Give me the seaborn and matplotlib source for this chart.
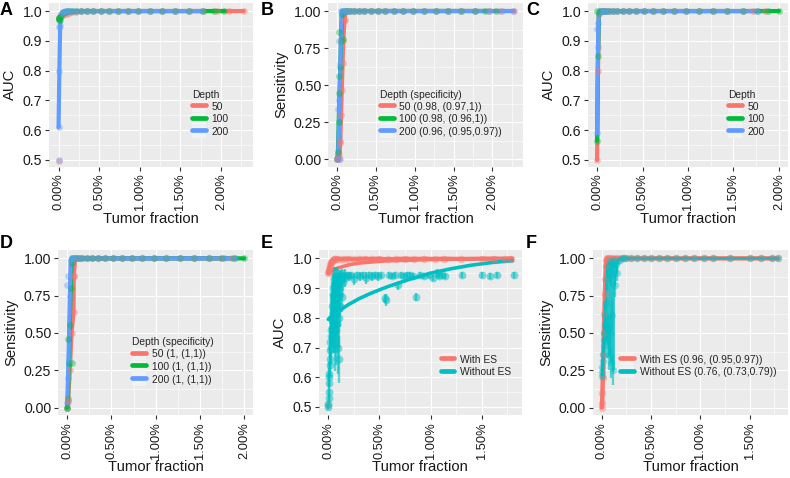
import matplotlib
matplotlib.use("Agg")
import matplotlib.pyplot as plt
import seaborn as sns
from matplotlib.lines import Line2D
from matplotlib.patches import Patch
from matplotlib.ticker import PercentFormatter, FormatStrFormatter, AutoMinorLocator

sns.set_theme(style="darkgrid")
plt.rcParams["font.family"] = ["Liberation Sans", "DejaVu Sans"]

RED, GREEN, BLUE, TEAL = "#F8766D", "#00BA38", "#619CFF", "#00BFC4"
depth_colors = {"50": RED, "100": GREEN, "200": BLUE}

# shared tumor-fraction grid for the flat part of panels A-D
low_tf = [0, 0.0001, 0.0002, 0.0003, 0.0005, 0.0008, 0.001]
tail_tf = [0.0013, 0.0017, 0.0022, 0.0028, 0.0035, 0.0043, 0.0052, 0.0062,
           0.0073, 0.0085, 0.0098, 0.0112, 0.0127, 0.0143, 0.016]
tail_one = [1.0, 1.0, 1.0, 1.0, 1.0, 1.0, 1.0, 1.0, 1.0, 1.0, 1.0, 1.0, 1.0, 1.0, 1.0]

# ---- Panel A: AUC by depth
a_tf_50 = low_tf + tail_tf + [0.0178, 0.0195, 0.021, 0.0228]
a_auc_50 = [0.975, 0.978, 0.982, 0.984, 0.988, 0.99, 0.991] + \
    [0.994, 0.996, 0.998, 0.999, 1.0, 1.0, 1.0, 1.0, 1.0, 1.0, 1.0, 1.0, 1.0, 1.0, 1.0] + [1.0, 1.0, 1.0, 1.0]
a_tf_100 = low_tf + tail_tf + [0.0178, 0.0191, 0.0204]
a_auc_100 = [0.97, 0.975, 0.98, 0.985, 0.995, 0.998, 0.999] + tail_one + [1.0, 1.0, 1.0]
a_tf_200 = low_tf + tail_tf + [0.0177]
a_auc_200 = [0.61, 0.8, 0.95, 0.99, 0.998, 1.0, 1.0] + tail_one + [1.0]
a_pts_tf = [0, 0, 0, 0.0001, 0.0002]
a_pts_auc = [0.495, 0.5, 0.945, 0.975, 0.97]
a_pts_grp = ["50", "200", "200", "100", "100"]

# ---- Panel B: sensitivity by depth
b_tf_50 = [0, 0.0002, 0.0003, 0.0004, 0.0005, 0.0006, 0.0007, 0.0008, 0.00095, 0.0011] + tail_tf + [0.0178, 0.0195, 0.021, 0.0228]
b_sens_50 = [0.0, 0.0, 0.03, 0.11, 0.3, 0.47, 0.65, 0.8, 0.94, 1.0] + tail_one + [1.0, 1.0, 1.0, 1.0]
b_tf_100 = [0, 0.0001, 0.0002, 0.0003, 0.0004, 0.0005, 0.00065, 0.0008, 0.001] + tail_tf + [0.0178, 0.0191, 0.0204]
b_sens_100 = [0.0, 0.05, 0.25, 0.45, 0.62, 0.8, 0.98, 1.0, 1.0] + tail_one + [1.0, 1.0, 1.0]
b_tf_200 = [0, 0.0001, 0.0002, 0.0003, 0.0004, 0.00056, 0.0008, 0.001] + tail_tf + [0.0178, 0.0195, 0.0212, 0.0226]
b_sens_200 = [0.0, 0.0, 0.16, 0.4, 0.64, 1.0, 1.0, 1.0] + tail_one + [1.0, 1.0, 1.0, 1.0]
b_pts_tf = [0, 0.0001, 0.0002, 0.0003, 0.0008, 0.0002, 0.0004, 0.0009, 0.0004]
b_pts_sens = [0.0, 0.34, 0.56, 0.86, 0.81, 0.8, 0.12, 0.93, 0.0]
b_pts_grp = ["50", "200", "100", "100", "100", "200", "50", "50", "200"]
b_labels = ["50 (0.98, (0.97,1))", "100 (0.98, (0.96,1))", "200 (0.96, (0.95,0.97))"]

# ---- Panel C: AUC by depth
c_tf_50 = low_tf + tail_tf + [0.0172, 0.0185]
c_auc_50 = [0.5, 0.8, 0.99, 1.0, 1.0, 1.0, 1.0] + tail_one + [1.0, 1.0]
c_tf_100 = low_tf + tail_tf + [0.0176, 0.0188, 0.02]
c_auc_100 = [0.565, 0.85, 0.995, 1.0, 1.0, 1.0, 1.0] + tail_one + [1.0, 1.0, 1.0]
c_tf_200 = low_tf + tail_tf + [0.0177]
c_auc_200 = [0.59, 0.88, 0.998, 1.0, 1.0, 1.0, 1.0] + tail_one + [1.0]
c_pts_tf = [0, 0, 0.0001]
c_pts_auc = [1.0, 0.94, 0.96]
c_pts_grp = ["100", "200", "200"]

# ---- Panel D: sensitivity by depth
d_tf_50 = [0, 0.0001, 0.0003, 0.0005, 0.00072, 0.00075, 0.0009, 0.0011] + tail_tf + [0.0174, 0.0186]
d_sens_50 = [0.0, 0.04, 0.25, 0.5, 0.64, 0.88, 1.0, 1.0] + tail_one + [1.0, 1.0]
d_tf_100 = [0, 0.0001, 0.0002, 0.0003, 0.0004, 0.0005, 0.0006, 0.0008, 0.001] + tail_tf + [0.0175, 0.0188, 0.02]
d_sens_100 = [0.0, 0.06, 0.3, 0.55, 0.8, 0.97, 1.0, 1.0, 1.0] + tail_one + [1.0, 1.0, 1.0]
d_tf_200 = [0, 0.0001, 0.0002, 0.0003, 0.0004, 0.0005, 0.0007, 0.001] + tail_tf + [0.0177, 0.019]
d_sens_200 = [0.03, 0.2, 0.45, 0.75, 0.99, 1.0, 1.0, 1.0] + tail_one + [1.0, 1.0]
d_pts_tf = [0, 0, 0.0001, 0.00015, 0.0002, 0.0005, 0.0008, 0.00012]
d_pts_sens = [0.0, 0.82, 0.88, 0.46, 0.32, 0.3, 0.88, 0.05]
d_pts_grp = ["100", "200", "200", "100", "200", "100", "50", "50"]
d_labels = ["50 (1, (1,1))", "100 (1, (1,1))", "200 (1, (1,1))"]

# ---- Panel E: AUC with / without ES
tail_ef = [0.0013, 0.0016, 0.002, 0.0025, 0.003, 0.0036, 0.0043, 0.005, 0.0058, 0.0066,
           0.0075, 0.0084, 0.0094, 0.0104, 0.0113, 0.013, 0.015, 0.0162, 0.0173, 0.0179]
e_tf_with = [0, 0.00003, 0.00006, 0.0001, 0.00015, 0.0002, 0.00025, 0.0003, 0.0004, 0.0005,
             0.0006, 0.0007, 0.0008, 0.001] + tail_ef
e_auc_with = [0.95, 0.953, 0.958, 0.965, 0.972, 0.978, 0.983, 0.987, 0.992, 0.995,
              0.997, 0.998, 0.998, 0.998] + \
    [0.997, 0.998, 0.999, 0.997, 0.998, 0.999, 0.998, 0.999, 0.997, 0.998,
     0.999, 0.998, 0.999, 0.998, 0.999, 0.998, 0.999, 0.999, 0.998, 0.999]
e_err_with = [0.006, 0.006, 0.006, 0.006, 0.005, 0.005, 0.005, 0.005, 0.004, 0.004,
              0.003, 0.003, 0.003, 0.003] + \
    [0.003, 0.003, 0.002, 0.003, 0.002, 0.002, 0.003, 0.002, 0.003, 0.002,
     0.002, 0.002, 0.002, 0.002, 0.002, 0.002, 0.002, 0.002, 0.002, 0.002]
e_pts_tf = [0]
e_pts_auc = [0.505]

e_tf_wo = [0, 0.00002, 0.00004, 0.00006, 0.00008, 0.0001, 0.00012, 0.00014, 0.00016, 0.00018,
           0.0002, 0.00023, 0.00026, 0.00029, 0.00032, 0.00035, 0.00038, 0.00041, 0.00044, 0.00047,
           0.0005, 0.00053, 0.00056, 0.00059, 0.00062, 0.00065, 0.00068, 0.00071, 0.00074, 0.00077,
           0.0008, 0.00083, 0.00086, 0.00089, 0.00092, 0.00095, 0.00098, 0.00101, 0.00104, 0.00107,
           0.0011, 0.00113, 0.00116, 0.0012, 0.00125, 0.0013, 0.00135, 0.0014, 0.0015, 0.0016,
           0.0018, 0.002, 0.0022, 0.0025, 0.0028, 0.0031, 0.0034, 0.0037, 0.004, 0.0043,
           0.0046, 0.0049, 0.0052, 0.0055, 0.0056, 0.0059, 0.0062, 0.0065, 0.0068, 0.0071,
           0.0074, 0.0077, 0.008, 0.0083, 0.0086, 0.009, 0.0094, 0.0098, 0.0102, 0.0106,
           0.0108, 0.0111, 0.0114, 0.0131, 0.015, 0.0158, 0.0165, 0.0181]
e_auc_wo = [0.50, 0.51, 0.53, 0.55, 0.58, 0.61, 0.60, 0.64, 0.69, 0.66,
            0.72, 0.70, 0.76, 0.74, 0.80, 0.77, 0.84, 0.79, 0.88, 0.82,
            0.90, 0.78, 0.93, 0.80, 0.86, 0.72, 0.91, 0.83, 0.94, 0.76,
            0.89, 0.82, 0.94, 0.78, 0.92, 0.70, 0.87, 0.66, 0.93, 0.80,
            0.90, 0.84, 0.94, 0.88, 0.93, 0.87, 0.945, 0.92, 0.94, 0.935,
            0.945, 0.94, 0.945, 0.93, 0.945, 0.94, 0.945, 0.935, 0.945, 0.94,
            0.945, 0.94, 0.945, 0.865, 0.86, 0.945, 0.94, 0.945, 0.91, 0.945,
            0.94, 0.945, 0.945, 0.94, 0.87, 0.945, 0.94, 0.945, 0.935, 0.95,
            0.94, 0.945, 0.94, 0.945, 0.945, 0.94, 0.945, 0.945]
e_err_wo = [0.01, 0.01, 0.02, 0.03, 0.03, 0.04, 0.03, 0.04, 0.05, 0.05,
            0.05, 0.06, 0.06, 0.07, 0.08, 0.07, 0.08, 0.09, 0.07, 0.10,
            0.06, 0.10, 0.04, 0.12, 0.08, 0.10, 0.06, 0.09, 0.03, 0.12,
            0.05, 0.09, 0.03, 0.10, 0.04, 0.09, 0.07, 0.08, 0.03, 0.10,
            0.05, 0.07, 0.02, 0.06, 0.03, 0.05, 0.02, 0.03, 0.02, 0.03,
            0.01, 0.015, 0.01, 0.02, 0.01, 0.015, 0.01, 0.02, 0.01, 0.015,
            0.01, 0.015, 0.01, 0.015, 0.02, 0.01, 0.01, 0.01, 0.015, 0.01,
            0.01, 0.01, 0.01, 0.01, 0.015, 0.01, 0.01, 0.01, 0.01, 0.015,
            0.01, 0.01, 0.01, 0.01, 0.01, 0.01, 0.01, 0.01]
# fitted trend curves
e_fit_tf = [0, 0.001, 0.002, 0.003, 0.004, 0.005, 0.006, 0.008, 0.01, 0.012, 0.014, 0.016, 0.018]
e_fit_with = [0.955, 0.968, 0.978, 0.984, 0.987, 0.99, 0.992, 0.994, 0.996, 0.997, 0.998, 0.999, 1.0]
e_fit_wo = [0.795, 0.822, 0.845, 0.864, 0.88, 0.894, 0.907, 0.93, 0.95, 0.965, 0.977, 0.986, 0.992]
e_labels = ["With ES", "Without ES"]

# ---- Panel F: sensitivity with / without ES
f_tf_with = [0, 0.00003, 0.00006, 0.0001, 0.00015, 0.0002, 0.00025, 0.0003, 0.00035, 0.0004,
             0.00045, 0.0005, 0.0006, 0.0008, 0.001] + tail_ef
f_sens_with = [0.0, 0.03, 0.1, 0.2, 0.35, 0.5, 0.63, 0.76, 0.86, 0.95,
               0.99, 1.0, 1.0, 1.0, 1.0] + \
    [1.0, 1.0, 1.0, 1.0, 1.0, 1.0, 1.0, 1.0, 1.0, 1.0, 1.0, 1.0, 1.0, 1.0, 1.0, 1.0, 1.0, 1.0, 1.0, 1.0]
f_tf_wo = [0, 0.00003, 0.00006, 0.0001, 0.00014, 0.00018, 0.00022, 0.00026, 0.0003, 0.00035,
           0.0004, 0.00045, 0.0005, 0.00055, 0.0006, 0.00065, 0.0007, 0.00075, 0.0008, 0.00085,
           0.0009, 0.00095, 0.001, 0.00105, 0.0011, 0.00115, 0.0012, 0.0013, 0.0014, 0.0015,
           0.0016, 0.0018, 0.002, 0.0022,
           0.0025, 0.003, 0.0036, 0.0043, 0.005, 0.0058, 0.0066, 0.0075, 0.0084, 0.0094,
           0.0104, 0.0113, 0.013, 0.015, 0.0162, 0.0173, 0.0179]
f_sens_wo = [0.21, 0.24, 0.27, 0.31, 0.36, 0.41, 0.45, 0.5, 0.56, 0.62,
             0.7, 0.55, 0.86, 0.45, 0.95, 0.52, 0.9, 0.35, 0.98, 0.5,
             0.88, 0.3, 0.97, 0.62, 0.93, 0.25, 0.99, 0.82, 0.96, 0.9,
             0.98, 0.99, 1.0, 1.0,
             1.0, 1.0, 1.0, 1.0, 1.0, 1.0, 1.0, 1.0, 1.0, 1.0,
             1.0, 1.0, 1.0, 1.0, 1.0, 1.0, 1.0]
f_err_wo = [0.02, 0.03, 0.03, 0.04, 0.04, 0.05, 0.05, 0.06, 0.06, 0.07,
            0.08, 0.1, 0.07, 0.12, 0.04, 0.1, 0.06, 0.1, 0.02, 0.12,
            0.07, 0.1, 0.03, 0.1, 0.05, 0.1, 0.01, 0.08, 0.03, 0.05,
            0.02, 0.01, 0.0, 0.0,
            0.0, 0.0, 0.0, 0.0, 0.0, 0.0, 0.0, 0.0, 0.0, 0.0,
            0.0, 0.0, 0.0, 0.0, 0.0, 0.0, 0.0]
f_labels = ["With ES (0.96, (0.95,0.97))", "Without ES (0.76, (0.73,0.79))"]


def draw_line(ax, tf, val, color, lw, alpha=1.0):
    sns.lineplot(x=tf, y=val, color=color, linewidth=lw, alpha=alpha, estimator=None,
                 ax=ax, legend=False, zorder=2)


def draw_points(ax, tf, val, color, err=None, size=24, alpha=0.4):
    if err is not None:
        ax.errorbar(tf, val, yerr=err, fmt="none", ecolor=color, elinewidth=1.7, alpha=0.6, zorder=2.5)
    sns.scatterplot(x=tf, y=val, color=color, s=size, alpha=alpha, linewidth=0,
                    ax=ax, legend=False, zorder=3)


def style(ax, ylabel, yticks, yfmt, xticks, xlim, ylim):
    ax.set_facecolor("#EBEBEB")
    ax.set_xlim(*xlim)
    ax.set_ylim(*ylim)
    ax.set_xticks(xticks)
    ax.set_yticks(yticks)
    ax.xaxis.set_minor_locator(AutoMinorLocator(2))
    ax.yaxis.set_minor_locator(AutoMinorLocator(2))
    ax.grid(which="major", color="white", lw=0.85)
    ax.grid(which="minor", color="white", lw=0.4)
    ax.set_axisbelow(True)
    ax.xaxis.set_major_formatter(PercentFormatter(xmax=1, decimals=2))
    ax.yaxis.set_major_formatter(FormatStrFormatter(yfmt))
    ax.tick_params(which="major", bottom=True, left=True, length=3, width=0.8, color="#333333",
                   labelcolor="#1a1a1a", pad=2)
    ax.tick_params(axis="x", labelrotation=90, labelsize=9.3)
    ax.tick_params(axis="y", labelsize=10.2)
    ax.tick_params(which="minor", length=0)
    for s in ax.spines.values():
        s.set_visible(False)
    ax.set_xlabel("Tumor fraction", fontsize=10.7, color="#1a1a1a", labelpad=1)
    ax.set_ylabel(ylabel, fontsize=10.7, color="#1a1a1a", labelpad=4)


def add_legend(ax, labels, colors, title, anchor):
    handles = [(Patch(facecolor="#F2F2F2", edgecolor="none"), Line2D([], [], color=c, lw=3.4))
               for c in colors]
    ax.legend(handles, labels, title=title, loc="upper left", bbox_to_anchor=anchor, frameon=False,
              fontsize=7.4, title_fontsize=7.4, alignment="left", handlelength=1.35, handleheight=1.45,
              labelspacing=0.05, borderpad=0, handletextpad=0.55, borderaxespad=0)


fig = plt.figure(figsize=(7.9, 4.78), dpi=100)
W, H = 790, 478


def add_ax(left, top, right, bottom):
    return fig.add_axes([left / W, 1 - bottom / H, (right - left) / W, (bottom - top) / H])


axA = add_ax(49.3, 2.7, 253, 166.7)
axB = add_ax(328.3, 2.7, 523, 166.7)
axC = add_ax(588, 2.7, 788, 166.7)
axD = add_ax(58.3, 250, 253, 415)
axE = add_ax(319, 250, 521.7, 415)
axF = add_ax(593, 250, 788, 415)

xt20 = [0, 0.005, 0.01, 0.015, 0.02]
xt15 = [0, 0.005, 0.01, 0.015]
auc_ticks = [0.5, 0.6, 0.7, 0.8, 0.9, 1.0]
sens_ticks = [0, 0.25, 0.5, 0.75, 1.0]


def depth_panel(ax, series, pts_tf, pts_val, pts_grp):
    for tf, val, key in series:
        draw_line(ax, tf, val, depth_colors[key], lw=3.0)
    for tf, val, key in series:
        draw_points(ax, tf, val, depth_colors[key])
    for key in ["50", "100", "200"]:
        xs = [x for x, g in zip(pts_tf, pts_grp) if g == key]
        ys = [y for y, g in zip(pts_val, pts_grp) if g == key]
        if xs:
            draw_points(ax, xs, ys, depth_colors[key])


depth_panel(axA, [(a_tf_50, a_auc_50, "50"), (a_tf_100, a_auc_100, "100"), (a_tf_200, a_auc_200, "200")],
            a_pts_tf, a_pts_auc, a_pts_grp)
style(axA, "AUC", auc_ticks, "%.1f", xt20, (-0.00114, 0.02394), (0.4775, 1.028))
add_legend(axA, ["50", "100", "200"], [RED, GREEN, BLUE], "Depth", (0.7, 0.47))

depth_panel(axB, [(b_tf_50, b_sens_50, "50"), (b_tf_100, b_sens_100, "100"), (b_tf_200, b_sens_200, "200")],
            b_pts_tf, b_pts_sens, b_pts_grp)
style(axB, "Sensitivity", sens_ticks, "%.2f", xt20, (-0.00114, 0.02394), (-0.05, 1.056))
add_legend(axB, b_labels, [RED, GREEN, BLUE], "Depth (specificity)", (0.265, 0.47))

depth_panel(axC, [(c_tf_50, c_auc_50, "50"), (c_tf_100, c_auc_100, "100"), (c_tf_200, c_auc_200, "200")],
            c_pts_tf, c_pts_auc, c_pts_grp)
style(axC, "AUC", auc_ticks, "%.1f", xt20, (-0.001, 0.021), (0.4775, 1.028))
add_legend(axC, ["50", "100", "200"], [RED, GREEN, BLUE], "Depth", (0.7, 0.47))

depth_panel(axD, [(d_tf_50, d_sens_50, "50"), (d_tf_100, d_sens_100, "100"), (d_tf_200, d_sens_200, "200")],
            d_pts_tf, d_pts_sens, d_pts_grp)
style(axD, "Sensitivity", sens_ticks, "%.2f", xt20, (-0.001, 0.021), (-0.05, 1.056))
add_legend(axD, d_labels, [RED, GREEN, BLUE], "Depth (specificity)", (0.38, 0.47))

# E: points with error bars plus fitted trends
draw_line(axE, e_tf_with, e_auc_with, RED, lw=3.0)
draw_points(axE, e_tf_with, e_auc_with, RED, err=e_err_with, size=30)
draw_points(axE, e_pts_tf, e_pts_auc, RED, size=30)
draw_points(axE, e_tf_wo, e_auc_wo, TEAL, err=e_err_wo, size=32, alpha=0.5)
draw_line(axE, e_fit_tf, e_fit_with, RED, lw=2.6)
draw_line(axE, e_fit_tf, e_fit_wo, TEAL, lw=2.6)
style(axE, "AUC", auc_ticks, "%.1f", xt15, (-0.0009, 0.0189), (0.473, 1.028))
add_legend(axE, e_labels, [RED, TEAL], None, (0.6, 0.375))

# F
draw_line(axF, f_tf_with, f_sens_with, RED, lw=3.2)
draw_points(axF, f_tf_with, f_sens_with, RED, size=28)
draw_line(axF, f_tf_wo, f_sens_wo, TEAL, lw=1.8, alpha=0.85)
draw_points(axF, f_tf_wo, f_sens_wo, TEAL, err=f_err_wo, size=28)
style(axF, "Sensitivity", sens_ticks, "%.2f", xt15, (-0.0009, 0.0189), (-0.05, 1.056))
add_legend(axF, f_labels, [RED, TEAL], None, (0.14, 0.375))

for letter, x, y in [("A", 0, 2), ("B", 261, 2), ("C", 526, 2), ("D", 0, 235), ("E", 261, 235), ("F", 526, 235)]:
    fig.text(x / W, 1 - y / H, letter, fontsize=13, fontweight="bold", va="top", ha="left", color="black")

fig.savefig("out.png", dpi=100)
